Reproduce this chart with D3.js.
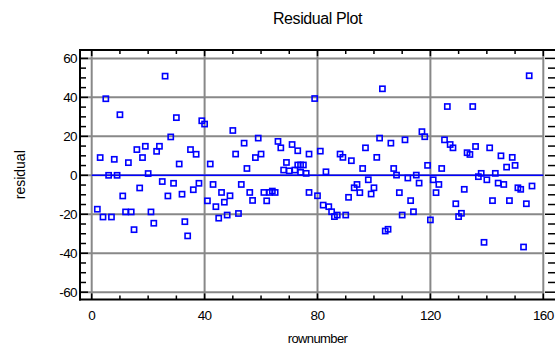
<!DOCTYPE html>
<html>
<head>
<meta charset="utf-8">
<script src="https://cdn.jsdelivr.net/npm/d3@7/dist/d3.min.js"></script>
<style>
  html, body { margin: 0; padding: 0; background: #fff; }
  svg { display: block; }
  text { font-family: "Liberation Sans", Arial, sans-serif; fill: #000; }
</style>
</head>
<body>
<svg id="chart" width="555" height="349"></svg>
<script>
// Residuals by row number
const rownumber = [
  2, 3, 4, 5, 6, 7, 8, 9, 10, 11, 12, 13, 14, 15, 16, 17, 18, 19, 20,
  21, 22, 23, 24, 25, 26, 27, 28, 29, 30, 31, 32, 33, 34, 35, 36, 37, 38, 39,
  40, 41, 42, 43, 44, 45, 46, 47, 48, 49, 50, 51, 52, 53, 54, 55, 56, 57, 58,
  59, 60, 61, 62, 63, 64, 65, 66, 67, 68, 69, 70, 71, 72, 73,
  73, 74, 74, 75, 76, 77, 77,
  79, 80, 81, 82, 83, 84, 85, 86, 87, 88, 89, 90, 91, 92, 93, 94, 95, 96, 97,
  98, 99, 100, 101, 102, 103, 104, 105, 106, 107, 108, 109, 110, 111, 112, 113,
  114, 115, 116, 117, 118,
  119, 120, 121, 122, 123, 124, 125, 126, 127, 128, 129, 130, 131, 132, 133,
  134, 135, 136, 137, 138, 139, 140, 141, 142, 143, 144, 145, 146, 147, 148,
  149, 150, 151, 152, 153, 154, 155, 156
];
const residual = [
  -17.4, 9.1, -21.4, 39.3, 0.0, -21.4, 8.2, 0.0, 31.1, -10.6, -18.8, 6.5, -18.8, -27.9, 13.2, -6.5, 9.1, 14.9, 0.9,
  -18.8, -24.6, 12.3, 14.9, -3.2, 50.9, -10.6, 19.7, -4.1, 29.6, 5.8, -9.7, -23.8, -31.1, 13.2, -7.4, 10.8, -4.1, 28.0,
  26.3, -13.1, 5.8, -4.7, -16.1, -22.0, -8.8, -13.8, -20.4, -10.5, 23.0, 10.9, -19.6, -4.7, 16.5, 3.5, -8.8, -12.9, 9.1,
  19.1, 10.9, -8.8, -13.1, -8.8, -8.1, -8.8, 17.4, 14.1, 2.7, 6.6, 2.3, 15.8, 2.7, 12.6,
  5.3, 5.3, 1.5, 5.3, 1.0, 10.9, -8.8,
  39.4, -10.5, 12.4, -15.3, 1.8, -16.1, -18.7, -21.2, -20.4, 10.9, 9.2, -20.4, -11.3, 7.5, -6.4, -4.7, -8.9, 3.5, 14.1,
  -2.3, -9.6, -6.4, 9.2, 19.1, 44.4, -28.6, -27.7, 16.5, 3.5, 0.1, -8.9, -20.4, 18.2, -1.4, -13.0,
  -18.7, 0.1, -4.0, 22.4, 19.8,
  5.1, -22.9, -2.3, -8.9, -4.7, 3.5, 18.2, 35.3, 15.8, 14.1, -14.6, -21.2, -19.5, -7.2, 11.6,
  10.7, 35.3, 14.8, -0.7, 1.0, -34.4, -2.3, 14.1, -13.0, 1.0, -4.0, 10.0, -4.7, 4.2, -13.0,
  9.2, 5.1, -6.4, -7.2, -36.8, -14.6, 51.1, -5.5
];

// Axis ticks and labels
const xMajorTicks = [0, 40, 80, 120, 160];
const xMinorTicks = d3.range(0, 161, 10);
const yMajorTicks = [-60, -40, -20, 0, 20, 40, 60];
const yMinorTicks = d3.range(-60, 61, 5);

const chartTitle = "Residual Plot";
const xTitle = "rownumber";
const yTitle = "residual";

// Layout
const frame = { left: 80, right: 555, top: 50, bottom: 299.5 };
const gridColor = "#888888";
const markColor = "#0000ff";

const svg = d3.select("#chart");

const x = d3.scaleLinear().domain([0, 160]).range([91.7, 543.3]);
const y = d3.scaleLinear().domain([-60, 60]).range([292.2, 58.4]);

// Gridlines
const grid = svg.append("g").attr("stroke", gridColor).attr("stroke-width", 2);
grid.selectAll("line.v").data(xMajorTicks).join("line")
  .attr("class", "v")
  .attr("x1", d => x(d)).attr("x2", d => x(d))
  .attr("y1", frame.top).attr("y2", frame.bottom);
grid.selectAll("line.h").data(yMajorTicks).join("line")
  .attr("class", "h")
  .attr("x1", frame.left).attr("x2", x(160))
  .attr("y1", d => y(d)).attr("y2", d => y(d));

// Zero reference line
svg.append("line")
  .attr("x1", x(0)).attr("x2", x(160))
  .attr("y1", y(0)).attr("y2", y(0))
  .attr("stroke", markColor).attr("stroke-width", 1.6);

// Frame lines
const axes = svg.append("g").attr("stroke", "#000").attr("stroke-width", 2);
axes.append("line").attr("x1", frame.left).attr("x2", frame.left).attr("y1", frame.top - 1).attr("y2", frame.bottom + 1);
axes.append("line").attr("x1", frame.left - 1).attr("x2", frame.right).attr("y1", frame.top).attr("y2", frame.top);
axes.append("line").attr("x1", frame.left - 1).attr("x2", frame.right).attr("y1", frame.bottom).attr("y2", frame.bottom);

// Tick marks (inward)
const ticks = svg.append("g").attr("stroke", "#000").attr("stroke-width", 1.5);
ticks.selectAll("line.xb").data(xMinorTicks).join("line")
  .attr("class", "xb")
  .attr("x1", d => x(d)).attr("x2", d => x(d))
  .attr("y1", frame.bottom).attr("y2", d => frame.bottom - (xMajorTicks.includes(d) ? 6 : 4));
ticks.selectAll("line.xt").data(xMinorTicks).join("line")
  .attr("class", "xt")
  .attr("x1", d => x(d)).attr("x2", d => x(d))
  .attr("y1", frame.top).attr("y2", d => frame.top + (xMajorTicks.includes(d) ? 6 : 4));
ticks.selectAll("line.yl").data(yMinorTicks).join("line")
  .attr("class", "yl")
  .attr("x1", frame.left).attr("x2", d => frame.left + (yMajorTicks.includes(d) ? 8 : 6))
  .attr("y1", d => y(d)).attr("y2", d => y(d));
ticks.selectAll("line.yr").data(yMinorTicks).join("line")
  .attr("class", "yr")
  .attr("x1", frame.right).attr("x2", d => frame.right - (yMajorTicks.includes(d) ? 10 : 7))
  .attr("y1", d => y(d)).attr("y2", d => y(d));

// Tick labels
svg.append("g").selectAll("text").data(xMajorTicks).join("text")
  .attr("x", d => x(d)).attr("y", 320)
  .attr("text-anchor", "middle")
  .attr("font-size", 13.5)
  .attr("letter-spacing", -0.6)
  .text(d => d);
svg.append("g").selectAll("text").data(yMajorTicks).join("text")
  .attr("x", 77).attr("y", d => y(d) + 5)
  .attr("text-anchor", "end")
  .attr("font-size", 13.5)
  .attr("letter-spacing", -0.6)
  .text(d => d);

// Titles
svg.append("text")
  .attr("x", (frame.left + frame.right) / 2).attr("y", 23.5)
  .attr("text-anchor", "middle").attr("font-size", 16)
  .attr("letter-spacing", -0.4)
  .text(chartTitle);
svg.append("text")
  .attr("x", (frame.left + frame.right) / 2).attr("y", 343)
  .attr("text-anchor", "middle").attr("font-size", 13)
  .attr("letter-spacing", -0.6)
  .text(xTitle);
svg.append("text")
  .attr("transform", `translate(25, ${(frame.top + frame.bottom) / 2}) rotate(-90)`)
  .attr("text-anchor", "middle").attr("font-size", 14)
  .text(yTitle);

// Residual points as open squares
const s = 5.2;
svg.append("g").selectAll("rect").data(rownumber.map((r, i) => [r, residual[i]])).join("rect")
  .attr("x", d => x(d[0]) - s / 2).attr("y", d => y(d[1]) - s / 2)
  .attr("width", s).attr("height", s)
  .attr("fill", "none").attr("stroke", markColor).attr("stroke-width", 1.6);
</script>
</body>
</html>
